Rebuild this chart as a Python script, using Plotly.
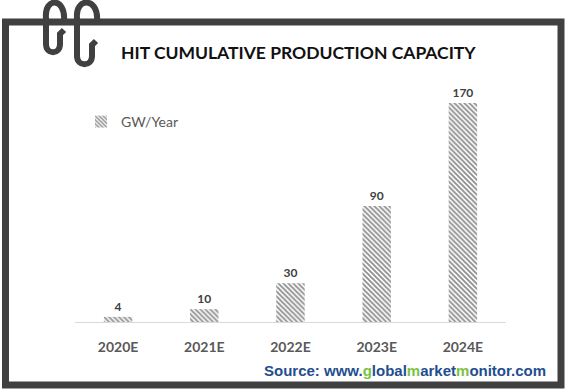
import plotly.graph_objects as go

categories = ["2020E", "2021E", "2022E", "2023E", "2024E"]
values = [4, 10, 30, 90, 170]
series_name = "GW/Year"
title_text = "HIT CUMULATIVE PRODUCTION CAPACITY"

W, H = 567, 390
FONT = "Lato, 'Open Sans', sans-serif"

fig = go.Figure()
fig.add_trace(go.Bar(
    x=categories, y=values, name=series_name,
    text=[str(v) for v in values], textposition="outside",
    textfont=dict(family=FONT, size=12, color="#404040", weight="bold"),
    cliponaxis=False,
    marker=dict(color="white", line=dict(width=0),
                pattern=dict(shape="\\", fgcolor="#222222", bgcolor="white", size=3.5, solidity=0.55)),
    width=0.33, xaxis="x", yaxis="y",
))
# invisible overlay axes in pixel coordinates for decoration
fig.add_trace(go.Scatter(x=[], y=[], xaxis="x2", yaxis="y2", showlegend=False))

x0, x1 = 75, 506
ybase, ytop = 322, 80
scale = 1.288
fig.update_layout(
    width=W, height=H, margin=dict(l=0, r=0, t=0, b=0),
    paper_bgcolor="white", plot_bgcolor="rgba(0,0,0,0)",
    xaxis=dict(domain=[x0 / W, x1 / W], anchor="y", showgrid=False, zeroline=False,
               showline=True, linecolor="#D9D9D9", linewidth=1, ticks="",
               tickfont=dict(family=FONT, size=14, color="#595959", weight="bold"),
               ticklabelstandoff=12),
    yaxis=dict(domain=[(H - ybase) / H, (H - ytop) / H], range=[0, (ybase - ytop) / scale],
               visible=False, showgrid=False, zeroline=False),
    xaxis2=dict(domain=[0, 1], range=[0, W], visible=False, anchor="y2", fixedrange=True),
    yaxis2=dict(domain=[0, 1], range=[H, 0], visible=False, anchor="x2", fixedrange=True),
    showlegend=True,
    legend=dict(x=81 / W, y=1 - 106 / H, xanchor="left", yanchor="top", itemwidth=30,
                font=dict(family=FONT, size=14, color="#595959"), bgcolor="rgba(0,0,0,0)"),
)

frame_col = "#404040"
shapes = [
    dict(type="rect", xref="x2", yref="y2", x0=5.5, x1=561, y0=22, y1=385,
         line=dict(color=frame_col, width=7), fillcolor="rgba(0,0,0,0)", layer="above"),
    dict(type="path", xref="x2", yref="y2",
         path="M 64,21 C 66,-3 44,-3 46,18 L 46,44 C 46,55 60,55 60,44 L 60,34 L 64,30",
         line=dict(color=frame_col, width=6), fillcolor="rgba(0,0,0,0)", layer="above"),
    dict(type="path", xref="x2", yref="y2",
         path="M 97,21 C 99,-3 75,-3 77,18 L 77,56 C 77,67 92,67 92,56 L 92,45 L 96,41",
         line=dict(color=frame_col, width=6), fillcolor="rgba(0,0,0,0)", layer="above"),
]
fig.update_layout(shapes=shapes)

src = ("Source: www.<span style='color:#7DC242'>g</span>lobal"
       "<span style='color:#7DC242'>m</span>arket"
       "<span style='color:#7DC242'>m</span>onitor.com")
fig.update_layout(annotations=[
    dict(xref="x2", yref="y2", x=298, y=52, text="<b>" + title_text + "</b>", showarrow=False,
         font=dict(family=FONT, size=17.5, color="#111111"), xanchor="center", yanchor="middle"),
    dict(xref="x2", yref="y2", x=405, y=370, text="<b>" + src + "</b>", showarrow=False,
         font=dict(family="Arial, 'Liberation Sans', sans-serif", size=15, color="#1F4E8F"),
         xanchor="center", yanchor="middle"),
])

fig.write_html("out.html", config={"displayModeBar": False},
               post_script="document.body.style.margin='0px';document.body.style.overflow='hidden';")
